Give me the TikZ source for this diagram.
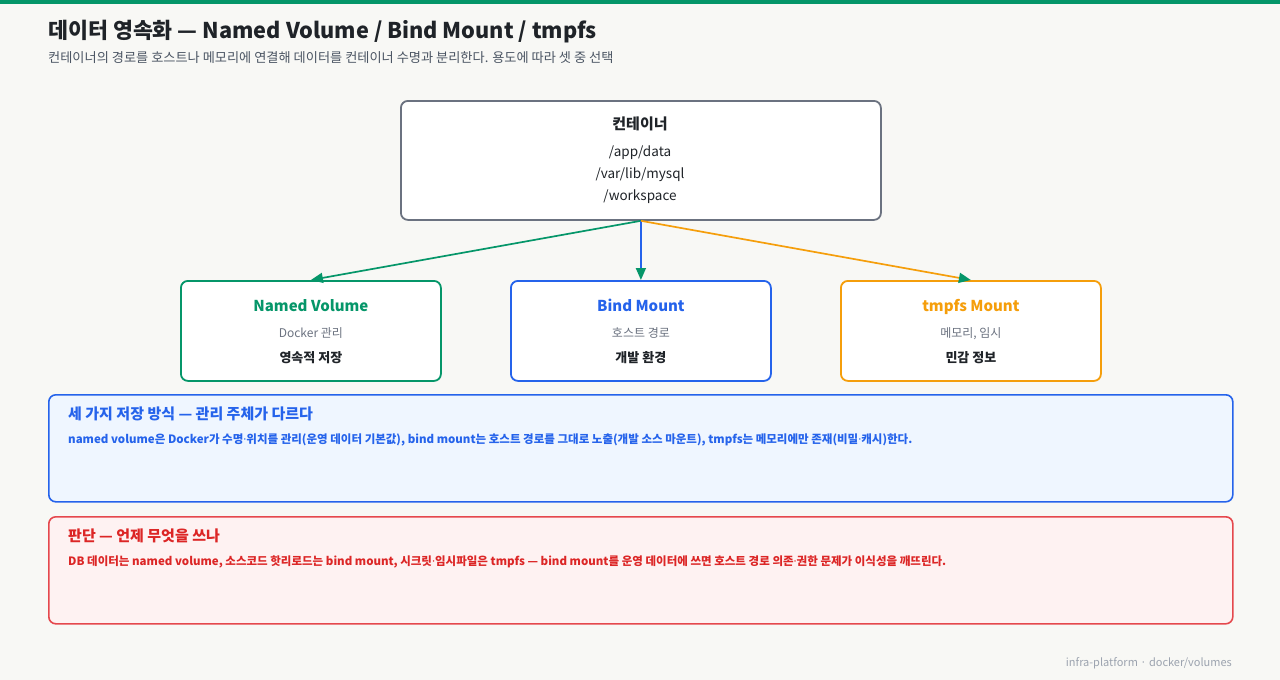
\documentclass[tikz,border=0pt]{standalone}
\usepackage{fontspec}
\setmainfont{Noto Sans CJK KR}
\newfontfamily\latinf{Noto Sans}
\newcommand{\mdot}{{\latinf ·}}
\usetikzlibrary{arrows.meta}
\definecolor{bg}{HTML}{F8F8F5}
\definecolor{cgreen}{HTML}{059669}
\definecolor{cblue}{HTML}{2563EB}
\definecolor{corange}{HTML}{F59E0B}
\definecolor{cred}{HTML}{DC2626}
\definecolor{cgray}{HTML}{6B7280}
\definecolor{ctext}{HTML}{1F2328}
\definecolor{csub}{HTML}{4B5563}
\definecolor{cfoot}{HTML}{9CA3AF}
\definecolor{bluefill}{HTML}{EFF6FF}
\definecolor{redfill}{HTML}{FEF2F2}
\definecolor{credline}{HTML}{E5484D}
\begin{document}
\begin{tikzpicture}[x=1pt,y=-1pt,
  box/.style={draw, line width=1.8pt, rounded corners=7pt, fill=white},
  link/.style={line width=1.7pt, -{Triangle[length=12pt,width=10pt,color=cgreen,fill=cgreen]}},
  callout/.style={draw, line width=1.6pt, rounded corners=7pt},
  lab/.style={inner sep=0pt, anchor=base}
]
\fill[bg] (0,0) rectangle (1280,680);
\useasboundingbox (0,0) rectangle (1280,680);
\fill[cgreen] (0,0) rectangle (1280,4);
% title
\node[lab, anchor=base west, font=\fontsize{21.7}{26}\selectfont\bfseries, text=ctext] (title) at (48,38) {데이터 영속화 — Named Volume / Bind Mount / tmpfs};
\node[lab, anchor=base west, font=\fontsize{13.2}{15}\selectfont, text=csub] (subtitle) at (48,62) {컨테이너의 경로를 호스트나 메모리에 연결해 데이터를 컨테이너 수명과 분리한다. 용도에 따라 셋 중 선택};
% container
\node[box, draw=cgray, minimum width=480pt, minimum height=119pt, anchor=north west] (ctr) at (400,100) {};
\node[lab, font=\fontsize{15}{18}\selectfont\bfseries, text=ctext] (ctrT) at (640,129) {컨테이너};
\node[lab, font=\fontsize{13.5}{16}\selectfont, text=ctext] (ctr1) at (640,156) {/app/data};
\node[lab, font=\fontsize{13.5}{16}\selectfont, text=ctext] (ctr2) at (640,178) {/var/lib/mysql};
\node[lab, font=\fontsize{13.5}{16}\selectfont, text=ctext] (ctr3) at (640,200) {/workspace};
% boxes
\node[box, draw=cgreen, minimum width=260pt, minimum height=100pt, anchor=north west] (nv) at (180,280) {};
\node[box, draw=cblue, minimum width=260pt, minimum height=100pt, anchor=north west] (bm) at (510,280) {};
\node[box, draw=corange, minimum width=260pt, minimum height=100pt, anchor=north west] (tm) at (840,280) {};
\foreach \n/\c/\t/\s/\b in {nv/cgreen/Named Volume/Docker 관리/영속적 저장, bm/cblue/Bind Mount/호스트 경로/개발 환경, tm/corange/tmpfs Mount/{메모리, 임시}/민감 정보}{
  \node[lab, font=\fontsize{15}{18}\selectfont\bfseries, text=\c] (\n T) at ([yshift=-31pt]\n.north) {\t};
  \node[lab, font=\fontsize{12}{14}\selectfont, text=cgray] (\n S) at ([yshift=-57pt]\n.north) {\s};
  \node[lab, font=\fontsize{13}{15}\selectfont\bfseries, text=ctext] (\n B) at ([yshift=-82pt]\n.north) {\b};
}
% connectors
\draw[link, cgreen] (ctr.south) -- (nv.north);
\draw[link, cblue] (ctr.south) -- (bm.north);
\draw[link, corange] (ctr.south) -- (tm.north);
% callouts
\node[callout, draw=cblue, fill=bluefill, minimum width=1184pt, minimum height=107pt, anchor=north west] (c1) at (48,394) {};
\node[lab, anchor=base west, font=\fontsize{15}{18}\selectfont\bfseries, text=cblue] (c1T) at (68,419) {세 가지 저장 방식 — 관리 주체가 다르다};
\node[lab, anchor=base west, font=\fontsize{11.5}{13}\selectfont\bfseries, text=cblue] (c1B) at (68,443) {named volume은 Docker가 수명\mdot 위치를 관리(운영 데이터 기본값), bind mount는 호스트 경로를 그대로 노출(개발 소스 마운트), tmpfs는 메모리에만 존재(비밀\mdot 캐시)한다.};
\node[callout, draw=credline, fill=redfill, minimum width=1184pt, minimum height=107pt, anchor=north west] (c2) at (48,516) {};
\node[lab, anchor=base west, font=\fontsize{15}{18}\selectfont\bfseries, text=cred] (c2T) at (68,541) {판단 — 언제 무엇을 쓰나};
\node[lab, anchor=base west, font=\fontsize{11.5}{13}\selectfont\bfseries, text=cred] (c2B) at (68,565) {DB 데이터는 named volume, 소스코드 핫리로드는 bind mount, 시크릿\mdot 임시파일은 tmpfs — bind mount를 운영 데이터에 쓰면 호스트 경로 의존\mdot 권한 문제가 이식성을 깨뜨린다.};
% footer
\node[lab, anchor=base east, font=\fontsize{11}{13}\selectfont, text=cfoot] (foot) at (1232,666) {infra-platform · docker/volumes};
\end{tikzpicture}
\end{document}
